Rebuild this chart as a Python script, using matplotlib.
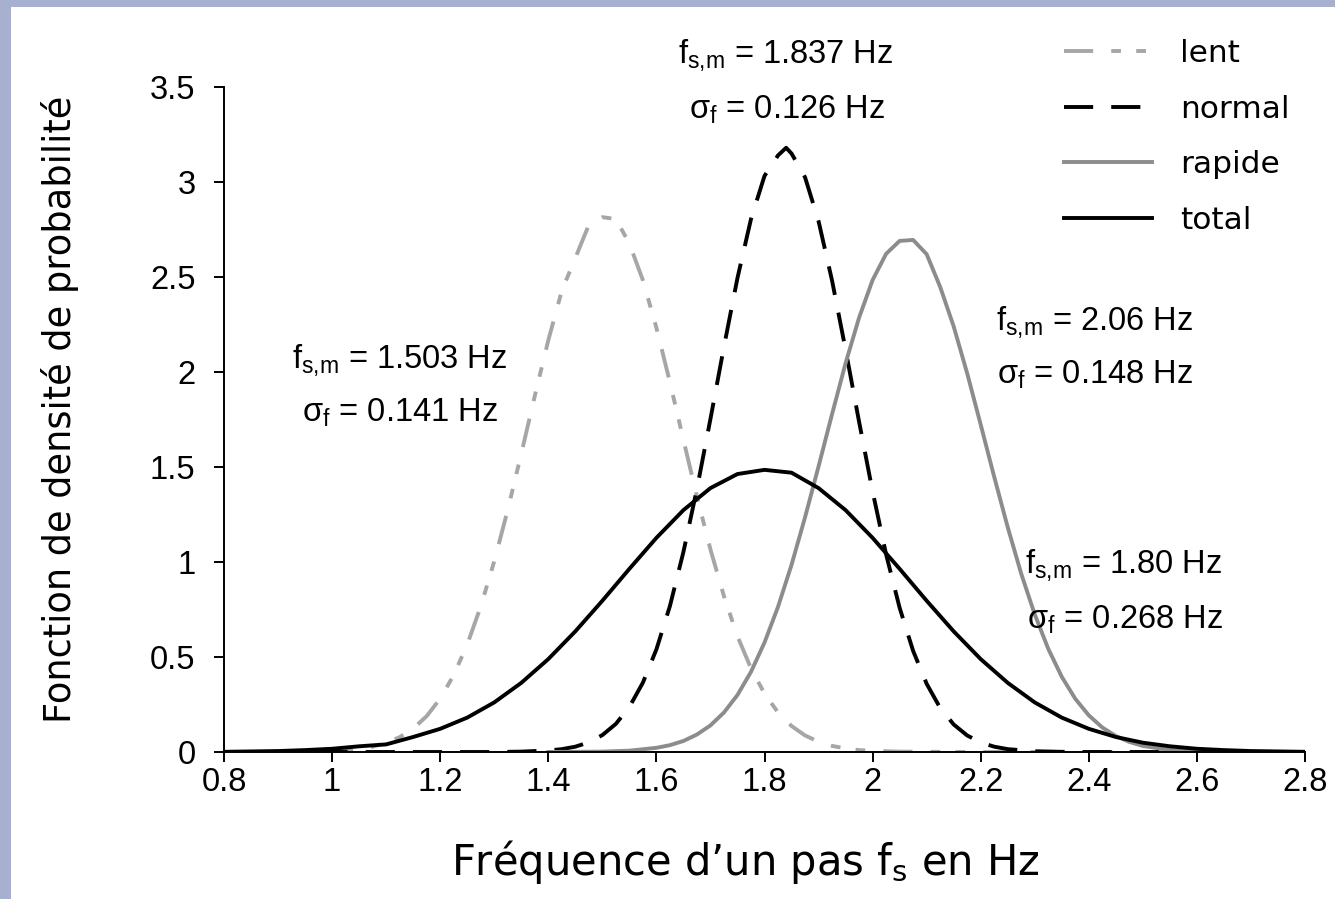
import numpy as np
import matplotlib
matplotlib.use('Agg')
import matplotlib.pyplot as plt
from matplotlib.patches import Rectangle

# Probability density curves

x_lent = [0.80, 0.85, 0.90, 0.95, 1.00, 1.025, 1.05, 1.075, 1.10, 1.125, 1.15, 1.175,
          1.20, 1.225, 1.25, 1.275, 1.30, 1.325, 1.35, 1.375, 1.40, 1.425, 1.45, 1.475,
          1.50, 1.525, 1.55, 1.575, 1.60, 1.625, 1.65, 1.675, 1.70, 1.725, 1.75, 1.775,
          1.80, 1.825, 1.85, 1.875, 1.90, 1.925, 1.95, 1.975, 2.00, 2.05, 2.10, 2.20,
          2.40, 2.60, 2.80]
y_lent = [0.000, 0.000, 0.000, 0.001, 0.005, 0.009, 0.016, 0.028, 0.048, 0.078, 0.123, 0.189,
          0.281, 0.405, 0.566, 0.766, 1.004, 1.275, 1.570, 1.874, 2.167, 2.428, 2.600, 2.774,
          2.815, 2.805, 2.676, 2.483, 2.233, 1.946, 1.643, 1.344, 1.066, 0.820, 0.609, 0.440,
          0.308, 0.208, 0.137, 0.087, 0.054, 0.032, 0.019, 0.010, 0.006, 0.002, 0.001, 0.000,
          0.000, 0.000, 0.000]

x_normal = [0.80, 1.00, 1.20, 1.30, 1.35, 1.40, 1.425, 1.45, 1.475, 1.50, 1.525, 1.55,
            1.575, 1.60, 1.625, 1.65, 1.675, 1.70, 1.725, 1.75, 1.775, 1.80, 1.825, 1.84,
            1.85, 1.875, 1.90, 1.925, 1.95, 1.975, 2.00, 2.025, 2.05, 2.075, 2.10, 2.125,
            2.15, 2.175, 2.20, 2.225, 2.25, 2.30, 2.35, 2.40, 2.60, 2.80]
y_normal = [0.000, 0.000, 0.000, 0.000, 0.002, 0.008, 0.015, 0.028, 0.051, 0.089, 0.148, 0.237,
            0.365, 0.540, 0.768, 1.053, 1.385, 1.753, 2.133, 2.495, 2.805, 3.032, 3.140, 3.180,
            3.150, 3.025, 2.794, 2.481, 2.118, 1.738, 1.371, 1.040, 0.759, 0.532, 0.359, 0.232,
            0.145, 0.087, 0.050, 0.028, 0.015, 0.004, 0.001, 0.000, 0.000, 0.000]

x_rapide = [1.40, 1.50, 1.55, 1.60, 1.625, 1.65, 1.675, 1.70, 1.725, 1.75, 1.775, 1.80,
            1.825, 1.85, 1.875, 1.90, 1.925, 1.95, 1.975, 2.00, 2.025, 2.05, 2.075, 2.10,
            2.125, 2.15, 2.175, 2.20, 2.225, 2.25, 2.275, 2.30, 2.325, 2.35, 2.375, 2.40,
            2.425, 2.45, 2.475, 2.50, 2.55, 2.60, 2.65]
y_rapide = [0.000, 0.002, 0.007, 0.022, 0.036, 0.058, 0.092, 0.140, 0.208, 0.300, 0.422, 0.576,
            0.764, 0.985, 1.235, 1.503, 1.778, 2.046, 2.286, 2.484, 2.622, 2.690, 2.695, 2.620,
            2.448, 2.240, 1.993, 1.723, 1.448, 1.183, 0.938, 0.724, 0.543, 0.396, 0.280, 0.193,
            0.129, 0.084, 0.053, 0.032, 0.011, 0.003, 0.001]

x_total = [0.80, 0.85, 0.90, 0.95, 1.00, 1.05, 1.10, 1.15, 1.20, 1.25, 1.30, 1.35, 1.40,
           1.45, 1.50, 1.55, 1.60, 1.65, 1.70, 1.75, 1.80, 1.85, 1.90, 1.95, 2.00, 2.05,
           2.10, 2.15, 2.20, 2.25, 2.30, 2.35, 2.40, 2.45, 2.50, 2.55, 2.60, 2.65, 2.70,
           2.75, 2.80]
y_total = [0.001, 0.003, 0.005, 0.010, 0.017, 0.030, 0.040, 0.079, 0.122, 0.181, 0.261, 0.364,
           0.489, 0.635, 0.796, 0.964, 1.127, 1.273, 1.389, 1.463, 1.485, 1.470, 1.389, 1.273,
           1.127, 0.964, 0.796, 0.635, 0.489, 0.364, 0.261, 0.181, 0.122, 0.079, 0.049, 0.030,
           0.017, 0.010, 0.005, 0.003, 0.001]

# annotation texts: (fs,m value, sigma value)
labels_fsm = ['1.503', '1.837', '2.06', '1.80']
labels_sig = ['0.141', '0.126', '0.148', '0.268']

###############################################################################

plt.rcParams['lines.scale_dashes'] = False
plt.rcParams['mathtext.fontset'] = 'custom'
plt.rcParams['mathtext.rm'] = 'Liberation Sans'

fig = plt.figure(figsize=(13.35, 8.99), dpi=100)
fig.patch.set_facecolor('#a8b0d0')
fig.patches.append(Rectangle((11/1335, 0), 1, (899-7)/899, transform=fig.transFigure,
                             facecolor='white', edgecolor='none', zorder=-10))

ax = fig.add_axes([224/1335, 147/899, 1081/1335, 665/899])
ax.patch.set_alpha(0)

lw = 2.8
ax.plot(x_lent, y_lent, color='#a6a6a6', lw=lw, ls=(0, (21, 13, 7, 11, 7, 13)), label='lent')
ax.plot(x_normal, y_normal, color='black', lw=lw, ls=(0, (21, 13)), label='normal')
ax.plot(x_rapide, y_rapide, color='#8c8c8c', lw=lw, label='rapide')
ax.plot(x_total, y_total, color='black', lw=lw, label='total')

ax.set_xlim(0.8, 2.8)
ax.set_ylim(0, 3.5)
ax.set_xticks([0.8, 1, 1.2, 1.4, 1.6, 1.8, 2, 2.2, 2.4, 2.6, 2.8])
ax.set_xticklabels(['0.8', '1', '1.2', '1.4', '1.6', '1.8', '2', '2.2', '2.4', '2.6', '2.8'])
ax.set_yticks([0, 0.5, 1, 1.5, 2, 2.5, 3, 3.5])
ax.set_yticklabels(['0', '0.5', '1', '1.5', '2', '2.5', '3', '3.5'])

for s in ['top', 'right']:
    ax.spines[s].set_visible(False)
for s in ['left', 'bottom']:
    ax.spines[s].set_linewidth(1.4)
    ax.spines[s].set_clip_on(False)
ax.tick_params(direction='out', length=7.5, width=1.4, labelsize=23.5,
               labelfontfamily='Liberation Sans')
ax.tick_params(axis='x', pad=3)
ax.tick_params(axis='y', pad=13)

ax.set_xlabel('Fréquence d\u2019un pas f$_\\mathregular{s}$ en Hz', fontsize=30,
              family='DejaVu Sans', va='center')
ax.set_ylabel('Fonction de densité de probabilité', fontsize=26.5,
              family='DejaVu Sans', va='center')
ax.xaxis.set_label_coords((745 - 224) / 1081, (752 - 862) / 665)
ax.yaxis.set_label_coords((60 - 224) / 1081, (752 - 409) / 665)

leg = ax.legend(loc='upper right', bbox_to_anchor=(1.006, 1.105), frameon=False,
                prop={'family': 'DejaVu Sans', 'size': 22.5}, handlelength=2.8,
                handletextpad=0.9, labelspacing=0.85, borderpad=0.2)

# annotations (pixel centres converted to data units)
def px2data(px, py):
    return (px - 224) / 540 + 0.8, (752 - py) / 190

pos_fsm = [(399, 360), (785, 55), (1094, 322), (1123, 565)]
pos_sig = [(400, 413), (786, 110), (1094, 375), (1124, 620)]
for i in range(4):
    x1, y1 = px2data(*pos_fsm[i])
    ax.text(x1, y1, '$\\mathregular{f_{s{,}m}}$ = ' + labels_fsm[i] + ' Hz', ha='center', va='center',
            fontsize=23.5, family='Liberation Sans', clip_on=False)
    x2, y2 = px2data(*pos_sig[i])
    ax.text(x2, y2, '$\\mathregular{\\sigma_f}$ = ' + labels_sig[i] + ' Hz', ha='center', va='center',
            fontsize=23.5, family='Liberation Sans', clip_on=False)

fig.savefig('out.png', dpi=100, facecolor=fig.get_facecolor())
